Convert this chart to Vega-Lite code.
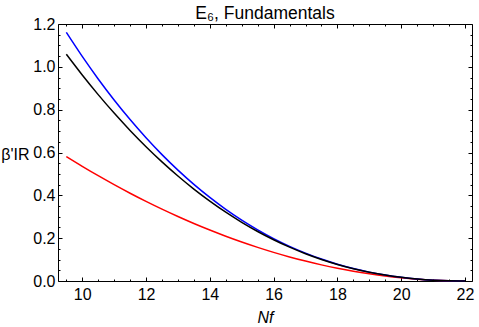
{
  "$schema": "https://vega.github.io/schema/vega-lite/v6.json",
  "width": 414,
  "height": 257,
  "autosize": "none",
  "padding": {"left": 58, "top": 24, "right": 7, "bottom": 46},
  "background": "white",
  "title": {"text": "E₆, Fundamentals", "fontSize": 17.5, "font": "Liberation Sans", "fontWeight": "normal", "color": "black", "offset": -6, "anchor": "middle"},
  "config": {
    "view": {"stroke": "black", "strokeWidth": 1},
    "axis": {"grid": false, "domain": false, "labelFont": "Liberation Sans", "titleFont": "Liberation Sans", "labelColor": "black", "tickColor": "black", "labelFontSize": 16, "titleFontSize": 16, "titleFontWeight": "normal", "titleColor": "black", "tickWidth": 1}
  },
  "data": {"values": [
    {"Nf": 9.5, "series": "red", "v": 0.5809}, {"Nf": 10, "series": "red", "v": 0.5354}, {"Nf": 10.5, "series": "red", "v": 0.4917}, {"Nf": 11, "series": "red", "v": 0.4499}, {"Nf": 11.5, "series": "red", "v": 0.4099}, {"Nf": 12, "series": "red", "v": 0.3718}, {"Nf": 12.5, "series": "red", "v": 0.3355}, {"Nf": 13, "series": "red", "v": 0.3012}, {"Nf": 13.5, "series": "red", "v": 0.2686}, {"Nf": 14, "series": "red", "v": 0.2380}, {"Nf": 14.5, "series": "red", "v": 0.2091}, {"Nf": 15, "series": "red", "v": 0.1822}, {"Nf": 15.5, "series": "red", "v": 0.1571}, {"Nf": 16, "series": "red", "v": 0.1338}, {"Nf": 16.5, "series": "red", "v": 0.1125}, {"Nf": 17, "series": "red", "v": 0.0930}, {"Nf": 17.5, "series": "red", "v": 0.0753}, {"Nf": 18, "series": "red", "v": 0.0595}, {"Nf": 18.5, "series": "red", "v": 0.0455}, {"Nf": 19, "series": "red", "v": 0.0335}, {"Nf": 19.5, "series": "red", "v": 0.0232}, {"Nf": 20, "series": "red", "v": 0.0149}, {"Nf": 20.5, "series": "red", "v": 0.0084}, {"Nf": 21, "series": "red", "v": 0.0037}, {"Nf": 21.5, "series": "red", "v": 0.0009}, {"Nf": 22, "series": "red", "v": 0},
    {"Nf": 9.5, "series": "blue", "v": 1.1610}, {"Nf": 10, "series": "blue", "v": 1.0486}, {"Nf": 10.5, "series": "blue", "v": 0.9434}, {"Nf": 11, "series": "blue", "v": 0.8452}, {"Nf": 11.5, "series": "blue", "v": 0.7537}, {"Nf": 12, "series": "blue", "v": 0.6688}, {"Nf": 12.5, "series": "blue", "v": 0.5901}, {"Nf": 13, "series": "blue", "v": 0.5177}, {"Nf": 13.5, "series": "blue", "v": 0.4510}, {"Nf": 14, "series": "blue", "v": 0.3901}, {"Nf": 14.5, "series": "blue", "v": 0.3344}, {"Nf": 15, "series": "blue", "v": 0.2841}, {"Nf": 15.5, "series": "blue", "v": 0.2387}, {"Nf": 16, "series": "blue", "v": 0.1980}, {"Nf": 16.5, "series": "blue", "v": 0.1619}, {"Nf": 17, "series": "blue", "v": 0.1301}, {"Nf": 17.5, "series": "blue", "v": 0.1024}, {"Nf": 18, "series": "blue", "v": 0.0785}, {"Nf": 18.5, "series": "blue", "v": 0.0582}, {"Nf": 19, "series": "blue", "v": 0.0415}, {"Nf": 19.5, "series": "blue", "v": 0.0278}, {"Nf": 20, "series": "blue", "v": 0.0173}, {"Nf": 20.5, "series": "blue", "v": 0.0094}, {"Nf": 21, "series": "blue", "v": 0.0040}, {"Nf": 21.5, "series": "blue", "v": 0.0010}, {"Nf": 22, "series": "blue", "v": 0},
    {"Nf": 9.5, "series": "black", "v": 1.0589}, {"Nf": 10, "series": "black", "v": 0.9619}, {"Nf": 10.5, "series": "black", "v": 0.8703}, {"Nf": 11, "series": "black", "v": 0.7840}, {"Nf": 11.5, "series": "black", "v": 0.7029}, {"Nf": 12, "series": "black", "v": 0.6270}, {"Nf": 12.5, "series": "black", "v": 0.5561}, {"Nf": 13, "series": "black", "v": 0.4903}, {"Nf": 13.5, "series": "black", "v": 0.4292}, {"Nf": 14, "series": "black", "v": 0.3730}, {"Nf": 14.5, "series": "black", "v": 0.3212}, {"Nf": 15, "series": "black", "v": 0.2741}, {"Nf": 15.5, "series": "black", "v": 0.2312}, {"Nf": 16, "series": "black", "v": 0.1926}, {"Nf": 16.5, "series": "black", "v": 0.1581}, {"Nf": 17, "series": "black", "v": 0.1275}, {"Nf": 17.5, "series": "black", "v": 0.1007}, {"Nf": 18, "series": "black", "v": 0.0774}, {"Nf": 18.5, "series": "black", "v": 0.0576}, {"Nf": 19, "series": "black", "v": 0.0412}, {"Nf": 19.5, "series": "black", "v": 0.0276}, {"Nf": 20, "series": "black", "v": 0.0172}, {"Nf": 20.5, "series": "black", "v": 0.0094}, {"Nf": 21, "series": "black", "v": 0.0040}, {"Nf": 21.5, "series": "black", "v": 0.0010}, {"Nf": 22, "series": "black", "v": 0}
  ]},
  "resolve": {"axis": {"x": "independent", "y": "independent"}, "scale": {"x": "shared", "y": "shared", "color": "shared"}},
  "layer": [
    {
      "mark": {"type": "line", "strokeWidth": 1.5, "interpolate": "monotone"},
      "encoding": {
        "x": {"field": "Nf", "type": "quantitative", "scale": {"domain": [9.24, 22.22], "nice": false, "zero": false},
              "axis": {"orient": "bottom", "values": [10, 12, 14, 16, 18, 20, 22], "ticks": false, "labelPadding": 5, "title": "Nf", "titleFontStyle": "italic", "titleBaseline": "alphabetic", "titleY": 41}},
        "y": {"field": "v", "type": "quantitative", "scale": {"domain": [0, 1.2], "nice": false},
              "axis": {"orient": "left", "values": [0, 0.2, 0.4, 0.6, 0.8, 1.0, 1.2], "format": ".1f", "ticks": false, "labelPadding": 3, "title": "β'IR", "titleAngle": 0, "titleAlign": "right", "titleBaseline": "middle", "titleX": -29, "titleY": 130}},
        "color": {"field": "series", "type": "nominal", "scale": {"domain": ["red", "blue", "black"], "range": ["#ff0000", "#0000ff", "#000000"]}, "legend": null}
      }
    },
    {
      "mark": {"type": "line", "opacity": 0},
      "encoding": {
        "x": {"field": "Nf", "type": "quantitative", "scale": {"domain": [9.24, 22.22], "nice": false, "zero": false},
              "axis": {"orient": "bottom", "values": [10, 12, 14, 16, 18, 20, 22], "labels": false, "tickSize": 4, "offset": -4, "title": null}},
        "y": {"field": "v", "type": "quantitative", "scale": {"domain": [0, 1.2], "nice": false},
              "axis": {"orient": "left", "values": [0, 0.2, 0.4, 0.6, 0.8, 1.0, 1.2], "labels": false, "tickSize": 4, "offset": -4, "title": null}}
      }
    },
    {
      "mark": {"type": "line", "opacity": 0},
      "encoding": {
        "x": {"field": "Nf", "type": "quantitative", "scale": {"domain": [9.24, 22.22], "nice": false, "zero": false},
              "axis": {"orient": "bottom", "values": [9.5, 10.5, 11, 11.5, 12.5, 13, 13.5, 14.5, 15, 15.5, 16.5, 17, 17.5, 18.5, 19, 19.5, 20.5, 21, 21.5], "labels": false, "tickSize": 2, "offset": -2, "title": null}},
        "y": {"field": "v", "type": "quantitative", "scale": {"domain": [0, 1.2], "nice": false},
              "axis": {"orient": "left", "values": [0.05, 0.1, 0.15, 0.25, 0.3, 0.35, 0.45, 0.5, 0.55, 0.65, 0.7, 0.75, 0.85, 0.9, 0.95, 1.05, 1.1, 1.15], "labels": false, "tickSize": 2, "offset": -2, "title": null}}
      }
    },
    {
      "mark": {"type": "line", "opacity": 0},
      "encoding": {
        "x": {"field": "Nf", "type": "quantitative", "scale": {"domain": [9.24, 22.22], "nice": false, "zero": false},
              "axis": {"orient": "top", "values": [10, 12, 14, 16, 18, 20, 22], "labels": false, "tickSize": 4, "offset": -4, "title": null}},
        "y": {"field": "v", "type": "quantitative", "scale": {"domain": [0, 1.2], "nice": false},
              "axis": {"orient": "right", "values": [0, 0.2, 0.4, 0.6, 0.8, 1.0, 1.2], "labels": false, "tickSize": 4, "offset": -4, "title": null}}
      }
    },
    {
      "mark": {"type": "line", "opacity": 0},
      "encoding": {
        "x": {"field": "Nf", "type": "quantitative", "scale": {"domain": [9.24, 22.22], "nice": false, "zero": false},
              "axis": {"orient": "top", "values": [9.5, 10.5, 11, 11.5, 12.5, 13, 13.5, 14.5, 15, 15.5, 16.5, 17, 17.5, 18.5, 19, 19.5, 20.5, 21, 21.5], "labels": false, "tickSize": 2, "offset": -2, "title": null}},
        "y": {"field": "v", "type": "quantitative", "scale": {"domain": [0, 1.2], "nice": false},
              "axis": {"orient": "right", "values": [0.05, 0.1, 0.15, 0.25, 0.3, 0.35, 0.45, 0.5, 0.55, 0.65, 0.7, 0.75, 0.85, 0.9, 0.95, 1.05, 1.1, 1.15], "labels": false, "tickSize": 2, "offset": -2, "title": null}}
      }
    }
  ]
}
